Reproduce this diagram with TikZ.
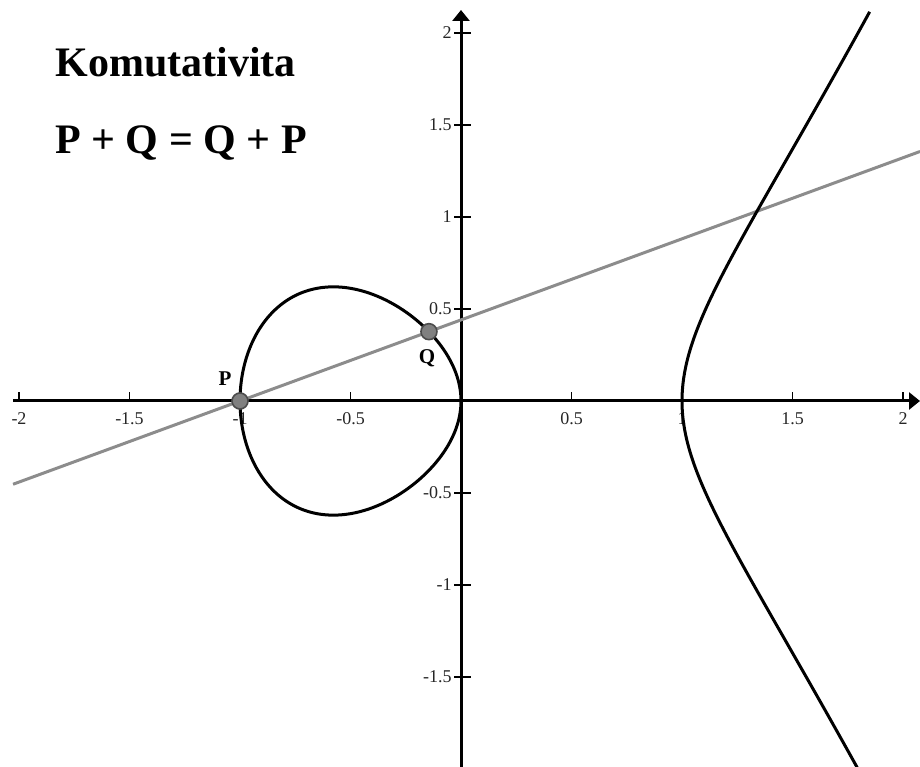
\documentclass[tikz,border=0pt]{standalone}
\usepackage{fontspec}
\setmainfont{Liberation Serif}
\usetikzlibrary{arrows.meta,positioning,calc}

\begin{document}
\begin{tikzpicture}[
    x=110.5pt, y=92pt,
    axis/.style={line width=1.5pt, -{Triangle[length=5.5pt, width=8.5pt]}},
    tickmark/.style={line width=0.9pt},
    curve/.style={line width=1.5pt, line join=round},
    secant/.style={line width=1.5pt, black!45},
    pnt/.style={circle, draw=black!70, fill=black!50, line width=0.8pt, minimum size=8pt, inner sep=0pt},
    ptlbl/.style={font=\fontsize{10.5}{12}\selectfont\bfseries, inner sep=0pt},
    num/.style={font=\fontsize{9}{10}\selectfont, inner sep=0pt, text=black!85},
    title/.style={font=\fontsize{21}{25}\selectfont\bfseries, inner sep=0pt, anchor=base west}
]
\useasboundingbox (-2.0860,-1.9891) rectangle (2.0769,2.1793);

% axes
\coordinate (xL) at (-2.027,0);
\coordinate (xR) at (2.0769,0);
\coordinate (yB) at (0,-1.9891);
\coordinate (yT) at (0,2.125);
\draw[axis] (xL) -- (xR);
\draw[axis] (yB) -- (yT);
\foreach \v [count=\i] in {-2,-1.5,-1,-0.5,0.5,1,1.5,2} {
  \draw[tickmark] (\v,0) -- ++(0,4.5pt);
  \node[num, anchor=north] (xl\i) at ($(\v,0)+(0,-5.5pt)$) {\v};
}
\foreach \v [count=\i] in {-1.5,-1,-0.5,0.5,1,1.5,2} {
  \draw[tickmark] ($(0,\v)+(-3.5pt,0)$) -- ++(8.5pt,0);
  \node[num, anchor=east] (yl\i) at ($(0,\v)+(-4.5pt,0)$) {\v};
}

% secant through P and Q
\coordinate (cP) at (-1,0);
\coordinate (cQ) at (-0.145,0.37677);
\draw[secant] ($(cP)!-1.201!(cQ)$) -- ($(cP)!3.599!(cQ)$);

% y^2 = x^3 - x
\draw[curve] plot[domain=0:360, samples=150, smooth]
  ({-0.5-0.5*cos(\x)}, {0.5*sin(\x)*sqrt(1.5+0.5*cos(\x))}) -- cycle;
\draw[curve] plot[domain=-0.92:0.9225, samples=90, smooth]
  ({1+\x*\x}, {\x*sqrt((1+\x*\x)*(2+\x*\x))});

\node[pnt] (P) at (cP) {};
\node[pnt] (Q) at (cQ) {};
\node[ptlbl, above left=4.5pt and 1pt of P] (lP) {P};
\node[ptlbl, below=4.5pt of Q, xshift=-1pt] (lQ) {Q};

\node[title] (ttl) at (-1.837,1.7625) {Komutativita};
\node[title] (eq) at (-1.837,1.346) {P + Q = Q + P};
\end{tikzpicture}
\end{document}
